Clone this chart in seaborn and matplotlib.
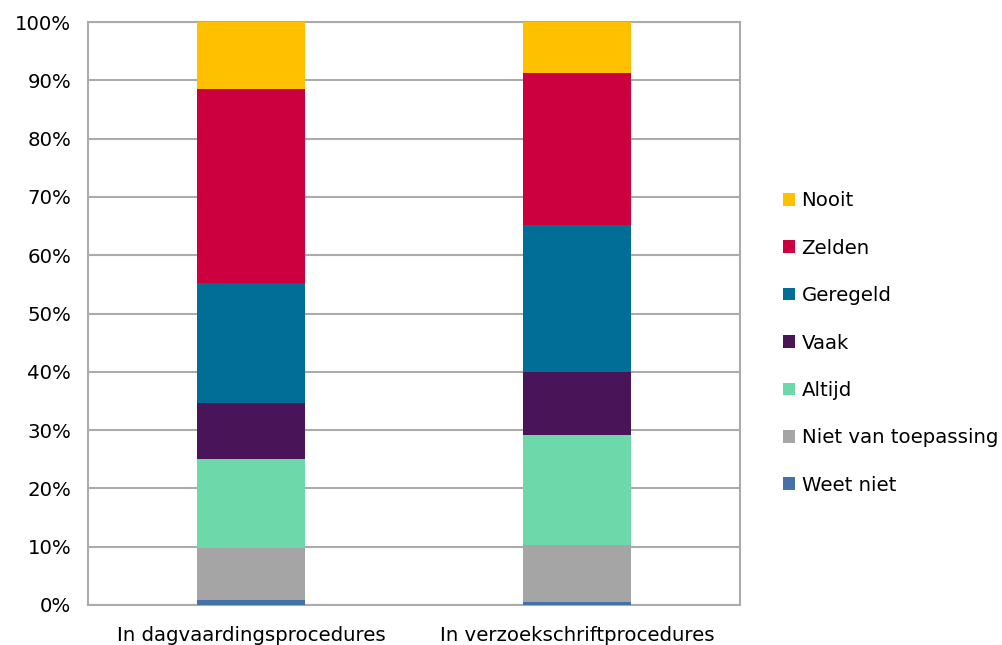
import numpy as np
import pandas as pd
import matplotlib
matplotlib.use("Agg")
import matplotlib.pyplot as plt
from matplotlib.patches import Patch
import seaborn as sns

categories = ["In dagvaardingsprocedures", "In verzoekschriftprocedures"]
series = ["Weet niet", "Niet van toepassing", "Altijd", "Vaak", "Geregeld", "Zelden", "Nooit"]
weet_niet = [0.8, 0.5]
niet_van_toepassing = [8.9, 9.8]
altijd = [15.3, 18.9]
vaak = [9.7, 10.8]
geregeld = [20.5, 25.1]
zelden = [33.3, 26.2]
nooit = [11.5, 8.7]
colors = ["#4472A8", "#A5A5A5", "#6DD9AA", "#4A1558", "#006E96", "#CC003F", "#FFC000"]
yticks = [0, 10, 20, 30, 40, 50, 60, 70, 80, 90, 100]

values = [weet_niet, niet_van_toepassing, altijd, vaak, geregeld, zelden, nooit]
cum = np.cumsum(np.array(values), axis=0)

sns.set_theme(style="white")
plt.rcParams['font.family'] = ['DejaVu Sans']
plt.rcParams['text.color'] = '#000000'

FS = 14.2
fig = plt.figure(figsize=(10.03, 6.45), dpi=100)
ax = fig.add_axes([88/1003, 40/645, (740-88)/1003, (605-22)/645])

# draw from top of stack downward so lower segments overlay
for i in range(len(series) - 1, -1, -1):
    df = pd.DataFrame({"cat": categories, "val": cum[i]})
    sns.barplot(data=df, x="cat", y="val", color=colors[i], width=0.33,
                saturation=1, ax=ax, linewidth=0, zorder=3)

ax.set_xlim(-0.5, 1.5)
ax.set_ylim(0, 100)
ax.set_yticks(yticks)
ax.set_yticklabels([f"{t}%" for t in yticks], fontsize=FS, color="#000000")
ax.tick_params(axis="x", labelsize=FS, colors="#000000", length=0, pad=15)
ax.tick_params(axis="y", length=0, pad=12)
ax.set_xlabel("")
ax.set_ylabel("")
ax.yaxis.grid(True, color="#ABABAB", linewidth=1.5, zorder=0)
ax.set_axisbelow(True)
for s in ax.spines.values():
    s.set_visible(True)
    s.set_color("#ABABAB")
    s.set_linewidth(1.5)

handles = [Patch(facecolor=colors[i], edgecolor="none", label=series[i])
           for i in range(len(series) - 1, -1, -1)]
leg = fig.legend(handles=handles, loc="center left", bbox_to_anchor=(775/1003, 1 - 343/645),
                 frameon=False, fontsize=FS, handlelength=0.6, handleheight=0.6,
                 handletextpad=0.35, labelspacing=1.44, borderaxespad=0)
for t in leg.get_texts():
    t.set_color("#000000")

fig.savefig("out.png", dpi=100)
